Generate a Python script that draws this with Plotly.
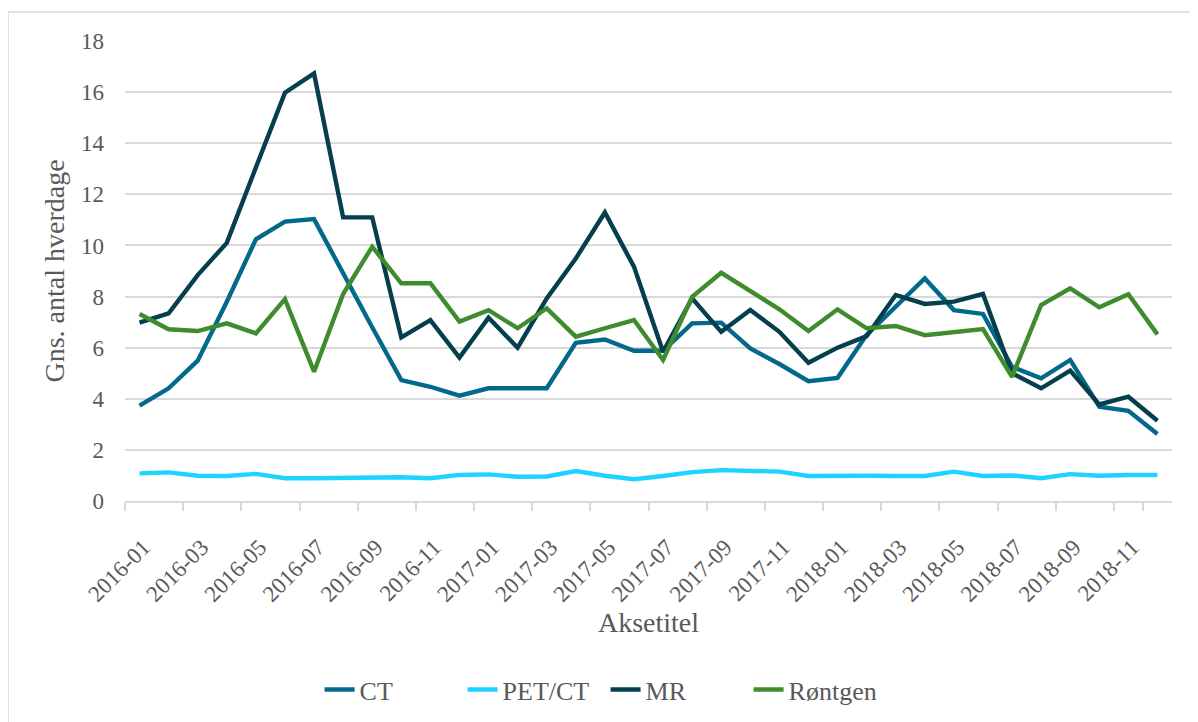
import plotly.graph_objects as go

months = [f"{y}-{m:02d}" for y in (2016, 2017, 2018) for m in range(1, 13)]

ct = [3.73, 4.41, 5.49, 7.8, 10.24, 10.93, 11.03, 8.9, 6.8, 4.73, 4.47, 4.12,
      4.41, 4.41, 4.41, 6.19, 6.32, 5.88, 5.88, 6.95, 6.98, 5.97, 5.36, 4.69,
      4.82, 6.5, 7.6, 8.71, 7.47, 7.32, 5.25, 4.8, 5.52, 3.69, 3.53, 2.62]
pet_ct = [1.08, 1.12, 0.99, 0.98, 1.06, 0.89, 0.89, 0.91, 0.89, 0.93, 0.89, 1.02,
          1.04, 0.95, 0.96, 1.17, 0.99, 0.85, 0.98, 1.13, 1.21, 1.19, 1.15, 0.98,
          1.0, 0.99, 0.98, 0.98, 1.15, 0.98, 1.0, 0.89, 1.05, 0.99, 1.02, 1.02]
mr = [6.98, 7.34, 8.84, 10.1, 13.05, 15.98, 16.73, 11.1, 11.1, 6.4, 7.08, 5.61,
      7.17, 6.0, 7.93, 9.49, 11.29, 9.17, 5.84, 7.93, 6.62, 7.47, 6.62, 5.41,
      6.0, 6.45, 8.06, 7.71, 7.8, 8.1, 5.0, 4.41, 5.1, 3.78, 4.08, 3.14]
rontgen = [7.32, 6.72, 6.65, 6.95, 6.56, 7.9, 5.06, 8.1, 9.95, 8.52, 8.52, 7.02,
           7.47, 6.76, 7.54, 6.43, 6.76, 7.08, 5.52, 7.99, 8.93, 8.19, 7.5, 6.65,
           7.5, 6.76, 6.85, 6.49, 6.6, 6.73, 4.86, 7.67, 8.32, 7.58, 8.09, 6.52]

series = [("CT", ct, "#03698A"), ("PET/CT", pet_ct, "#1DD3FF"),
          ("MR", mr, "#053F4D"), ("Røntgen", rontgen, "#3F8C2E")]

y_ticks = list(range(0, 19, 2))
x_ticklabels = months[::2]

FONT = "Liberation Serif"
GRAY = "#595959"
GRID = "#D9D9D9"

fig = go.Figure()
for name, vals, col in series:
    fig.add_trace(go.Scatter(x=months, y=vals, name=name, mode="lines",
                             line=dict(color=col, width=4.4)))

# page body has an 8px margin, so the figure is 8px smaller and margins compensate
fig.update_layout(
    width=1190, height=714,
    margin=dict(l=117, r=26, t=33, b=221, autoexpand=False),
    paper_bgcolor="white", plot_bgcolor="white",
    font=dict(family=FONT, color=GRAY, size=23),
    showlegend=True,
    legend=dict(orientation="h", x=0.459, xanchor="center", y=-0.41, yanchor="middle",
                font=dict(size=26, family=FONT, color=GRAY),
                entrywidth=98, entrywidthmode="pixels", tracegroupgap=0),
    xaxis=dict(type="category", range=[-0.5, 35.5], tickmode="array",
               tickvals=x_ticklabels, ticktext=x_ticklabels, tickangle=-45,
               tickson="boundaries", ticks="outside", ticklen=8, tickcolor=GRID,
               tickwidth=1.5, showgrid=False, showline=True, linecolor=GRID,
               linewidth=1.5, automargin=False, ticklabelstandoff=22,
               ticklabelshift=4,
               tickfont=dict(size=23, family=FONT, color=GRAY),
               title=dict(text="Aksetitel", font=dict(size=28, family=FONT, color=GRAY),
                          standoff=0)),
    yaxis=dict(range=[0, 18], tickvals=y_ticks, showgrid=True, gridcolor=GRID,
               gridwidth=1.5, zeroline=False, showline=False, ticks="",
               ticklabelstandoff=20, automargin=False,
               tickfont=dict(size=23, family=FONT, color=GRAY),
               title=dict(text="Gns. antal hverdage",
                          font=dict(size=28, family=FONT, color=GRAY), standoff=8)),
)

fig.add_shape(type="rect", xref="paper", yref="paper",
              x0=-0.1117, x1=1.2, y0=-0.8, y1=1.063,
              line=dict(color=GRID, width=1.5), fillcolor="rgba(0,0,0,0)", layer="below")

fig.write_html("out.html")
